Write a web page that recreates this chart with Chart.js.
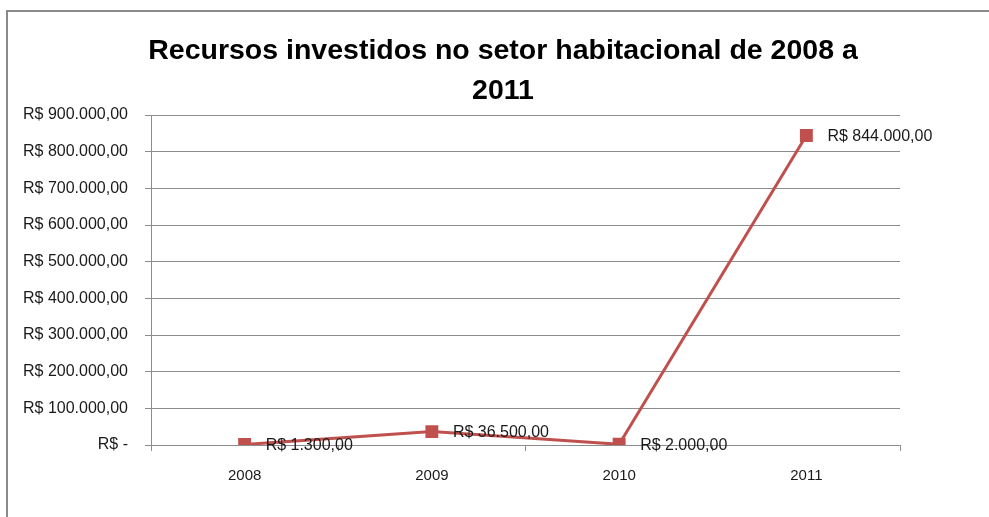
<!DOCTYPE html>
<html>
<head>
<meta charset="utf-8">
<script src="https://cdn.jsdelivr.net/npm/chart.js@4/dist/chart.umd.min.js"></script>
<style>
  html, body { margin: 0; padding: 0; background: #fff; }
  #wrap { width: 989px; height: 517px; position: relative; }
</style>
</head>
<body>
<div id="wrap"><canvas id="line"></canvas></div>
<script>
  // Recursos por ano
  const years = ['2008', '2009', '2010', '2011'];
  const amounts = [1300, 36500, 2000, 844000];
  const titleLines = ['Recursos investidos no setor habitacional de 2008 a', '2011'];

  const lineColor = '#C0504D';
  const gridColor = '#8C8C8C';
  const fontFamily = '"Liberation Sans", Arial, sans-serif';

  // R$ 1.300,00 style
  const formatBRL = (v) => {
    if (v === 0) return 'R$ -';
    const parts = Math.round(v).toString().replace(/\B(?=(\d{3})+(?!\d))/g, '.');
    return 'R$ ' + parts + ',00';
  };

  // outer frame of the chart object
  const framePlugin = {
    id: 'frame',
    beforeDraw(chart) {
      const ctx = chart.ctx;
      ctx.save();
      ctx.strokeStyle = '#8A8A8A';
      ctx.lineWidth = 2;
      ctx.beginPath();
      ctx.moveTo(7, chart.height + 5);
      ctx.lineTo(7, 11);
      ctx.lineTo(chart.width + 5, 11);
      ctx.stroke();
      ctx.restore();
    }
  };

  // two-line title, centred over the whole frame
  const titlePlugin = {
    id: 'bigTitle',
    afterDraw(chart) {
      const ctx = chart.ctx;
      ctx.save();
      ctx.font = 'bold 28.5px ' + fontFamily;
      ctx.fillStyle = '#000';
      ctx.textAlign = 'center';
      ctx.textBaseline = 'middle';
      titleLines.forEach((line, i) => {
        ctx.fillText(line, 503, 51 + i * 40);
      });
      ctx.restore();
    }
  };

  // value labels to the right of each point
  const valueLabels = {
    id: 'valueLabels',
    afterDatasetsDraw(chart) {
      const ctx = chart.ctx;
      const meta = chart.getDatasetMeta(0);
      ctx.save();
      ctx.font = '16px ' + fontFamily;
      ctx.fillStyle = '#1a1a1a';
      ctx.textAlign = 'left';
      ctx.textBaseline = 'middle';
      meta.data.forEach((pt, i) => {
        ctx.fillText(formatBRL(amounts[i]), pt.x + 21, pt.y + 1);
      });
      ctx.restore();
    }
  };

  const lineConfig = {
    type: 'line',
    data: {
      labels: years,
      datasets: [{
        data: amounts,
        borderColor: lineColor,
        backgroundColor: lineColor,
        borderWidth: 3,
        pointStyle: 'rect',
        pointRadius: 7,
        pointHoverRadius: 7,
        tension: 0
      }]
    },
    options: {
      responsive: true,
      maintainAspectRatio: false,
      animation: false,
      layout: { padding: { left: 20, right: 89, top: 115, bottom: 16 } },
      plugins: {
        legend: { display: false },
        tooltip: { enabled: false },
        title: { display: false }
      },
      scales: {
        x: {
          offset: true,
          grid: {
            offset: true,
            drawOnChartArea: false,
            color: gridColor,
            tickLength: 6
          },
          border: { color: gridColor, width: 1 },
          ticks: {
            color: '#1a1a1a',
            font: { family: fontFamily, size: 15 },
            padding: 16,
            maxRotation: 0
          }
        },
        y: {
          min: 0,
          max: 900000,
          afterFit(scale) { scale.width = 131; },
          grid: { color: gridColor, tickLength: 6 },
          border: { color: gridColor, width: 1 },
          ticks: {
            stepSize: 100000,
            color: '#1a1a1a',
            font: { family: fontFamily, size: 16 },
            padding: 17,
            callback: (v) => formatBRL(v)
          }
        }
      }
    },
    plugins: [framePlugin, titlePlugin, valueLabels]
  };

  window.myLine = new Chart(document.getElementById('line'), lineConfig);
</script>
</body>
</html>
